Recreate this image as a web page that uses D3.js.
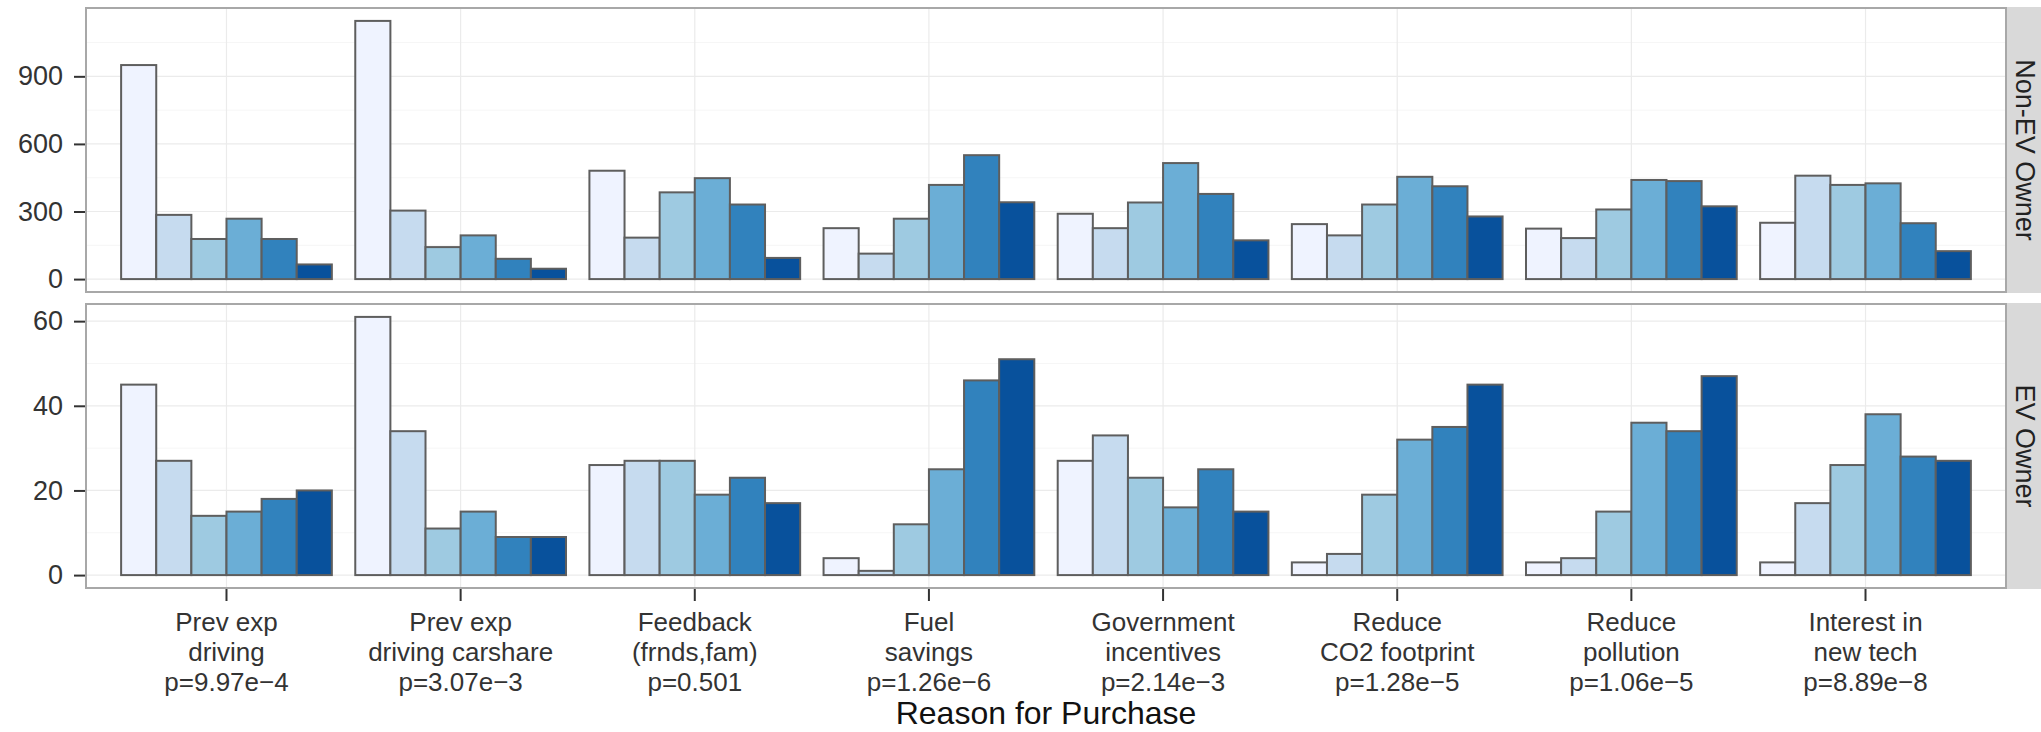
<!DOCTYPE html>
<html>
<head>
<meta charset="utf-8">
<script src="https://cdn.jsdelivr.net/npm/d3@7"></script>
<style>
    body { margin: 0; background: #fff; }
    svg { display: block; font-family: "Liberation Sans", Arial, Helvetica, sans-serif; }
</style>
</head>
<body>
<div id="chart"></div>
<script>
// Reasons for purchase (x categories), one row per tick label line
const reasonLabels = [
    ['Prev exp', 'driving', 'p=9.97e\u22124'],
    ['Prev exp', 'driving carshare', 'p=3.07e\u22123'],
    ['Feedback', '(frnds,fam)', 'p=0.501'],
    ['Fuel', 'savings', 'p=1.26e\u22126'],
    ['Government', 'incentives', 'p=2.14e\u22123'],
    ['Reduce', 'CO2 footprint', 'p=1.28e\u22125'],
    ['Reduce', 'pollution', 'p=1.06e\u22125'],
    ['Interest in', 'new tech', 'p=8.89e\u22128']
];
const reasons = reasonLabels.map(l => l.join(' '));

// Importance rating levels (fill)
const ratingLevels = [1, 2, 3, 4, 5, 6];

// Counts per reason, one value per rating level
const nonEvCounts = [
    [950, 285, 178, 268, 178, 65],
    [1146, 304, 142, 194, 90, 46],
    [481, 184, 385, 448, 331, 94],
    [226, 113, 268, 418, 550, 341],
    [290, 226, 340, 515, 378, 172],
    [244, 194, 331, 454, 412, 278],
    [224, 182, 309, 440, 435, 323],
    [250, 459, 418, 425, 248, 124]
];
const evCounts = [
    [45, 27, 14, 15, 18, 20],
    [61, 34, 11, 15, 9, 9],
    [26, 27, 27, 19, 23, 17],
    [4, 1, 12, 25, 46, 51],
    [27, 33, 23, 16, 25, 15],
    [3, 5, 19, 32, 35, 45],
    [3, 4, 15, 36, 34, 47],
    [3, 17, 26, 38, 28, 27]
];

const owners = ['Non-EV Owner', 'EV Owner'];
const nonEvTicks = [0, 300, 600, 900];
const evTicks = [0, 20, 40, 60];
const nonEvMinor = [150, 450, 750, 1050];
const evMinor = [10, 30, 50];

const blues = ['#eff3ff', '#c6dbef', '#9ecae1', '#6baed6', '#3182bd', '#08519c'];

const width = 2041;
const height = 732;
const panelLeft = 86;
const panelRight = 2006;
const stripWidth = 36;
const panels = [
    { name: owners[0], top: 8, bottom: 292, counts: nonEvCounts, ticks: nonEvTicks, minor: nonEvMinor },
    { name: owners[1], top: 304, bottom: 588, counts: evCounts, ticks: evTicks, minor: evMinor }
];

const svg = d3.select('#chart')
    .append('svg')
    .attr('width', width)
    .attr('height', height);

svg.append('rect')
    .attr('width', width)
    .attr('height', height)
    .attr('fill', '#fff');

// discrete x: 0.6 expansion each side, bars 0.9 wide
const x = d3.scaleBand()
    .domain(reasons)
    .range([panelLeft, panelRight])
    .paddingInner(0.1)
    .paddingOuter(0.15);

const xInner = d3.scaleBand()
    .domain(ratingLevels)
    .range([0, x.bandwidth()]);

panels.forEach(p => drawPanel(p));
drawXAxis();

svg.append('text')
    .attr('x', (panelLeft + panelRight) / 2)
    .attr('y', 724)
    .attr('text-anchor', 'middle')
    .attr('font-size', 32)
    .attr('fill', '#111')
    .text('Reason for Purchase');

function drawPanel(p) {
    const flat = p.counts.flat();
    const maxV = d3.max(flat);
    const y = d3.scaleLinear()
        .domain([-0.05 * maxV, maxV * 1.05])
        .range([p.bottom, p.top]);

    const g = svg.append('g');

    // minor + major grid
    g.selectAll('.minor')
        .data(p.minor)
        .enter()
        .append('line')
        .attr('x1', panelLeft).attr('x2', panelRight)
        .attr('y1', d => y(d)).attr('y2', d => y(d))
        .attr('stroke', '#f6f6f6')
        .attr('stroke-width', 1);

    g.selectAll('.hgrid')
        .data(p.ticks)
        .enter()
        .append('line')
        .attr('x1', panelLeft).attr('x2', panelRight)
        .attr('y1', d => y(d)).attr('y2', d => y(d))
        .attr('stroke', '#ebebeb')
        .attr('stroke-width', 1.2);

    g.selectAll('.vgrid')
        .data(reasons)
        .enter()
        .append('line')
        .attr('x1', d => x(d) + x.bandwidth() / 2)
        .attr('x2', d => x(d) + x.bandwidth() / 2)
        .attr('y1', p.top).attr('y2', p.bottom)
        .attr('stroke', '#ebebeb')
        .attr('stroke-width', 1.2);

    // bars
    const groups = g.selectAll('.grp')
        .data(p.counts)
        .enter()
        .append('g')
        .attr('transform', (d, i) => `translate(${x(reasons[i])},0)`);

    groups.selectAll('rect')
        .data(d => d)
        .enter()
        .append('rect')
        .attr('x', (d, i) => xInner(ratingLevels[i]))
        .attr('width', xInner.bandwidth())
        .attr('y', d => y(d))
        .attr('height', d => y(0) - y(d))
        .attr('fill', (d, i) => blues[i])
        .attr('stroke', '#5e5e5e')
        .attr('stroke-width', 2);

    // panel border
    g.append('rect')
        .attr('x', panelLeft)
        .attr('y', p.top)
        .attr('width', panelRight - panelLeft)
        .attr('height', p.bottom - p.top)
        .attr('fill', 'none')
        .attr('stroke', '#a8a8a8')
        .attr('stroke-width', 2);

    // y axis
    const yAxis = svg.append('g')
        .attr('transform', `translate(${panelLeft - 1},0)`)
        .call(d3.axisLeft(y).tickValues(p.ticks).tickSize(11).tickPadding(11));
    yAxis.select('.domain').remove();
    yAxis.selectAll('.tick line').attr('stroke', '#333').attr('stroke-width', 2);
    yAxis.selectAll('.tick text')
        .attr('font-size', 27)
        .attr('fill', '#333')
        .attr('font-family', '"Liberation Sans", Arial, sans-serif');

    // strip on the right
    svg.append('rect')
        .attr('x', panelRight + 1)
        .attr('y', p.top - 1)
        .attr('width', stripWidth)
        .attr('height', p.bottom - p.top + 2)
        .attr('fill', '#d9d9d9');

    svg.append('text')
        .attr('transform', `translate(${panelRight + 1 + stripWidth / 2},${(p.top + p.bottom) / 2}) rotate(90)`)
        .attr('text-anchor', 'middle')
        .attr('dy', '0.35em')
        .attr('font-size', 27)
        .attr('fill', '#222')
        .text(p.name);
}

function drawXAxis() {
    const xAxis = svg.append('g')
        .attr('transform', `translate(0,${panels[1].bottom + 1})`)
        .call(d3.axisBottom(x).tickSize(12).tickFormat(''));
    xAxis.select('.domain').remove();
    xAxis.selectAll('.tick line').attr('stroke', '#333').attr('stroke-width', 2);

    xAxis.selectAll('.tick').each(function (d, i) {
        const t = d3.select(this).append('text')
            .attr('text-anchor', 'middle')
            .attr('font-size', 26)
            .attr('fill', '#333');
        reasonLabels[i].forEach((line, k) => {
            t.append('tspan')
                .attr('x', 0)
                .attr('y', 42 + k * 30)
                .text(line);
        });
    });
}
</script>
</body>
</html>
